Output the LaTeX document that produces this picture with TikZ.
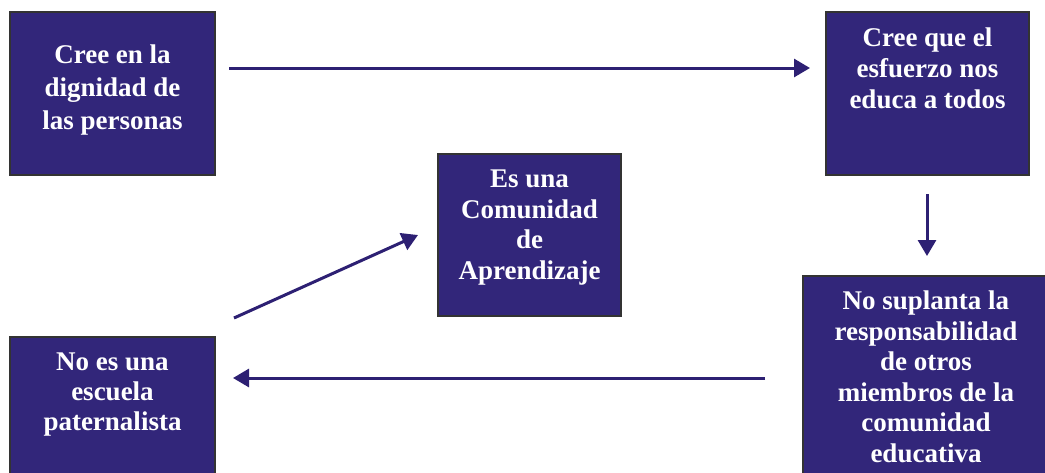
\documentclass[tikz,border=0pt]{standalone}
\usepackage{fontspec}
\setmainfont{Liberation Serif}
\usetikzlibrary{arrows.meta}
\definecolor{boxblue}{RGB}{50,38,122}
\definecolor{linecol}{RGB}{45,32,115}
\tikzset{
  box/.style={draw=black!80,line width=1.2pt,fill=boxblue,inner sep=0pt},
  boxtext/.style={text=white,font=\bfseries\fontsize{27}{31}\selectfont,align=center,inner sep=0pt,anchor=base},
  conn/.style={draw=linecol,line width=3pt,-{Triangle[length=16pt,width=18pt]}}
}
\begin{document}
\begin{tikzpicture}[x=1pt,y=-1pt]
\useasboundingbox (0,0) rectangle (1045,472);
\draw[box] (10,12) rectangle (215,175);
\draw[box] (826,12) rectangle (1029,175);
\draw[box] (438,154) rectangle (621,316);
\draw[box] (803,276) rectangle (1060,490);
\draw[box] (10,337) rectangle (215,490);
% base anchor = baseline of the last line
\node[boxtext,font=\bfseries\fontsize{27}{33}\selectfont] (A) at (112.5,129) {Cree en la\\dignidad de\\las personas};
\node[boxtext] (B) at (927.5,108) {Cree que el\\esfuerzo nos\\educa a todos};
\node[boxtext,font=\bfseries\fontsize{27}{30.5}\selectfont] (C) at (529.5,279) {Es una\\Comunidad\\de\\Aprendizaje};
\node[boxtext,font=\bfseries\fontsize{27}{30.5}\selectfont] (D) at (926,462) {No suplanta la\\responsabilidad\\de otros\\miembros de la\\comunidad\\educativa};
\node[boxtext,font=\bfseries\fontsize{27}{30}\selectfont] (E) at (112.5,430) {No es una\\escuela\\paternalista};
\coordinate (a1s) at (229,68);
\coordinate (a1e) at (810,68);
\coordinate (a2s) at (927,194);
\coordinate (a2e) at (927,256);
\coordinate (a3s) at (765,378);
\coordinate (a3e) at (233,378);
\coordinate (a4s) at (234,318);
\coordinate (a4e) at (418,235);
\draw[conn] (a1s) -- (a1e);
\draw[conn] (a2s) -- (a2e);
\draw[conn] (a3s) -- (a3e);
\draw[conn] (a4s) -- (a4e);
\end{tikzpicture}
\end{document}
